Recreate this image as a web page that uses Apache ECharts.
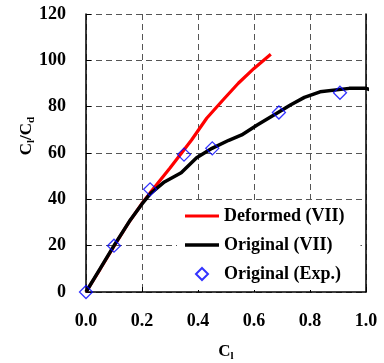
<!DOCTYPE html>
<html>
<head>
<meta charset="utf-8">
<script src="https://cdn.jsdelivr.net/npm/echarts@6/dist/echarts.min.js"></script>
<style>html,body{margin:0;padding:0;background:#fff}#c{width:384px;height:363px}</style>
</head>
<body>
<div id="c"></div>
<script>
var xTicks = [0.0, 0.2, 0.4, 0.6, 0.8, 1.0];
var yTicks = [0, 20, 40, 60, 80, 100, 120];
var deformedVII = [[0,0],[0.05,9.8],[0.10,19.8],[0.15,29.5],[0.20,38.2],[0.229,42.8],[0.30,53.5],[0.377,65.6],[0.431,75],[0.49,83],[0.544,90.1],[0.60,96.5],[0.66,102.6]];
var originalVII = [[0,0],[0.05,10],[0.10,20],[0.155,30.5],[0.20,38],[0.23,42.5],[0.28,47.5],[0.34,51.5],[0.395,58],[0.45,62],[0.51,65.5],[0.556,67.8],[0.61,72],[0.68,77],[0.73,80.7],[0.78,84],[0.836,86.4],[0.94,87.9],[1.0,87.9],[1.027,86.7]];
var originalExp = [[0,0],[0.10,20],[0.229,44.3],[0.35,59.3],[0.451,62],[0.689,77.5],[0.907,86]];

var FONT = 'Liberation Serif';
var chart = echarts.init(document.getElementById('c'), null, {renderer:'canvas'});
var gridLine = {show:true, lineStyle:{color:'#555', type:[6,4], width:1}};
var sub = {m:{fontFamily:FONT,fontWeight:'bold',fontSize:17,color:'#000'},s:{fontFamily:FONT,fontWeight:'bold',fontSize:11,color:'#000',verticalAlign:'bottom',padding:[0,0,-2,0]}};
chart.setOption({
  animation:false,
  backgroundColor:'#fff',
  grid:{left:86, top:14, right:18, bottom:71, outerBoundsMode:'none', containLabel:false},
  legend:{
    orient:'vertical', left:177, top:201, itemWidth:34, itemHeight:12, itemGap:11,
    padding:[6,16,7,8], backgroundColor:'#fff',
    symbolKeepAspect:true,
    textStyle:{fontFamily:FONT, fontWeight:'bold', fontSize:18, color:'#000'},
    data:[
      {name:'Deformed (VII)', icon:'path://M0,0H34V3.2H0Z', itemStyle:{color:'#ff0000'}},
      {name:'Original (VII)', icon:'path://M0,0H34V3.5H0Z', itemStyle:{color:'#000'}},
      {name:'Original (Exp.)', icon:'path://M5,0L10,5L5,10L0,5Z'}
    ]
  },
  xAxis:{
    type:'value', min:xTicks[0], max:xTicks[xTicks.length-1], interval:0.2,
    name:'{m|C}{s|l}', nameLocation:'middle', nameGap:51,
    nameTextStyle:{rich:sub},
    axisLine:{show:true, lineStyle:{color:'#000', width:1.5}},
    axisTick:{show:true, inside:true, length:5, lineStyle:{color:'#000'}},
    axisLabel:{margin:20, fontFamily:FONT, fontWeight:'bold', fontSize:18, color:'#000', formatter:function(v){return v.toFixed(1);}},
    splitLine:gridLine
  },
  yAxis:[{
    type:'value', min:yTicks[0], max:yTicks[yTicks.length-1], interval:20,
    name:'{m|C}{s|l}{m|/C}{s|d}', nameLocation:'middle', nameGap:51, nameMoveOverlap:false,
    nameTextStyle:{padding:[0,0,0,34], rich:sub},
    axisLine:{show:true, lineStyle:{color:'#000', width:1.5}},
    axisTick:{show:true, inside:true, length:5, lineStyle:{color:'#000'}},
    axisLabel:{margin:20, fontFamily:FONT, fontWeight:'bold', fontSize:18, color:'#000'},
    splitLine:gridLine
  },{
    type:'value', position:'right', min:yTicks[0], max:yTicks[yTicks.length-1], interval:20,
    axisLine:{show:true, lineStyle:{color:'#000', width:1.5}},
    axisTick:{show:false}, axisLabel:{show:false}, splitLine:{show:false}
  }],
  series:[
    {name:'Deformed (VII)', type:'line', data:deformedVII, showSymbol:false, symbol:'none', lineStyle:{color:'#ff0000', width:3.2}, itemStyle:{color:'#ff0000'}, z:2},
    {name:'Original (VII)', type:'line', data:originalVII, showSymbol:false, symbol:'none', clip:false, lineStyle:{color:'#000', width:3.5}, itemStyle:{color:'#000'}, z:3},
    {name:'Original (Exp.)', type:'scatter', data:originalExp, symbol:'diamond', symbolSize:13, itemStyle:{color:'rgba(0,0,0,0)', borderColor:'#0000ff', borderWidth:1.3}, z:4}
  ]
});
</script>
</body>
</html>
